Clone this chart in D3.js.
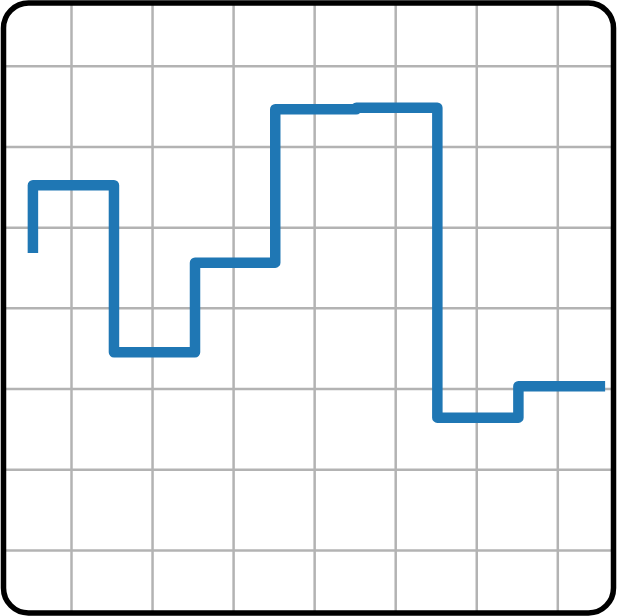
<!DOCTYPE html>
<html>
<head>
<meta charset="utf-8">
<script src="https://cdn.jsdelivr.net/npm/d3@7"></script>
<style>
  html, body { margin: 0; padding: 0; background: #fff; }
  svg { display: block; }
</style>
</head>
<body>
<script>
// Data
const xValues = [0.53, 1.53, 2.53, 3.52, 4.52, 5.52, 6.52, 7.59];
const yValues = [4.68, 5.52, 3.45, 4.56, 6.46, 6.48, 2.64, 3.03];
const xTicks = [1, 2, 3, 4, 5, 6, 7];
const yTicks = [1, 2, 3, 4, 5, 6, 7];

const W = 617, H = 616;
const svg = d3.select("body").append("svg").attr("width", W).attr("height", H);

const x = d3.scaleLinear().domain([1, 7]).range([71, 557.3]);
const y = d3.scaleLinear().domain([1, 7]).range([550, 65.7]);

svg.append("defs").append("clipPath").attr("id", "clip")
  .append("rect").attr("x", 3).attr("y", 3).attr("width", 610).attr("height", 610).attr("rx", 25);

const g = svg.append("g").attr("clip-path", "url(#clip)");
g.append("rect").attr("x", 0).attr("y", 0).attr("width", W).attr("height", H).attr("fill", "#fff");

// grid via axes
const gx = g.append("g").attr("transform", `translate(0,${H})`)
  .call(d3.axisBottom(x).tickValues(xTicks).tickSize(-H).tickFormat(""));
const gy = g.append("g")
  .call(d3.axisLeft(y).tickValues(yTicks).tickSize(-W).tickFormat(""));
[gx, gy].forEach(a => {
  a.select(".domain").remove();
  a.selectAll(".tick line").attr("stroke", "#b3b3b3").attr("stroke-width", 2.5);
});

const line = d3.line().x(d => x(d[0])).y(d => y(d[1])).curve(d3.curveStepBefore);
g.append("path")
  .datum(xValues.map((v, i) => [v, yValues[i]]))
  .attr("d", line)
  .attr("fill", "none")
  .attr("stroke", "#1f77b4")
  .attr("stroke-width", 10.5)
  .attr("stroke-linejoin", "round")
  .attr("stroke-linecap", "butt");

svg.append("rect").attr("x", 3.5).attr("y", 3).attr("width", 610).attr("height", 610)
  .attr("rx", 25).attr("fill", "none").attr("stroke", "#000").attr("stroke-width", 5.5);
</script>
</body>
</html>
